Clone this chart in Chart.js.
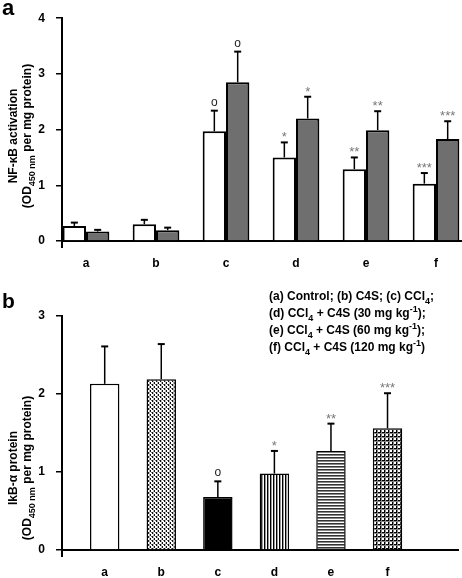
<!DOCTYPE html>
<html lang="en">
<head>
    <meta charset="UTF-8">
    <title>NF-kB and IkB-alpha</title>
    <script src="https://cdn.jsdelivr.net/npm/chart.js"></script>
    <style>
        body { margin: 0; background: #fff; }
        .panel { position: absolute; left: 0; width: 462px; }
        #panelA { top: 0; height: 280px; }
        #panelB { top: 280px; height: 298px; }
    </style>
</head>
<body>
    <div class="panel" id="panelA"><canvas id="chartA"></canvas></div>
    <div class="panel" id="panelB"><canvas id="chartB"></canvas></div>

    <script>
    // groups (a)-(f)
    const groups = ['a', 'b', 'c', 'd', 'e', 'f'];

    // panel a: NF-kB activation, two bars per group
    const nfkbWhite = [0.27, 0.30, 1.97, 1.50, 1.29, 1.03];
    const nfkbWhiteErr = [0.06, 0.08, 0.37, 0.27, 0.21, 0.19];
    const nfkbGray = [0.17, 0.195, 2.85, 2.20, 1.99, 1.83];
    const nfkbGrayErr = [0.03, 0.045, 0.55, 0.39, 0.34, 0.32];
    const nfkbTicks = [0, 1, 2, 3, 4];

    // panel b: IkB-alpha protein
    const ikb = [2.13, 2.19, 0.68, 0.98, 1.27, 1.56];
    const ikbErr = [0.48, 0.45, 0.20, 0.29, 0.35, 0.45];
    const ikbTicks = [0, 1, 2, 3];

    // significance marks
    const sigMarks = ['', '', 'o', '*', '**', '***'];

    const FONT = '"Liberation Sans", Arial, Helvetica, sans-serif';

    function tile(w, h, draw) {
        const c = document.createElement('canvas');
        c.width = w; c.height = h;
        const g = c.getContext('2d');
        g.fillStyle = '#fff';
        g.fillRect(0, 0, w, h);
        draw(g);
        return g.createPattern(c, 'repeat');
    }

    const patDots = tile(4, 4, g => {
        g.fillStyle = '#bbb';
        g.fillRect(1, 0, 1, 4);
        g.fillStyle = '#111';
        g.fillRect(0, 0, 1, 2);
        g.fillRect(2, 2, 1, 2);
        g.fillStyle = '#777';
        g.fillRect(3, 0, 1, 1);
    });
    const patVert = tile(3, 3, g => {
        g.fillStyle = '#000';
        g.fillRect(0, 0, 1, 3);
        g.fillStyle = '#999';
        g.fillRect(1, 0, 1, 3);
    });
    const patHoriz = tile(3, 3, g => {
        g.fillStyle = '#333';
        g.fillRect(0, 0, 3, 1);
        g.fillStyle = '#888';
        g.fillRect(0, 1, 3, 1);
    });
    const patGrid = tile(4, 4, g => {
        g.fillStyle = '#000';
        g.fillRect(0, 0, 4, 1);
        g.fillRect(0, 0, 1, 4);
        g.fillStyle = '#888';
        g.fillRect(0, 1, 4, 1);
        g.fillRect(1, 0, 1, 4);
    });
    const ikbFills = ['#ffffff', patDots, '#000000', patVert, patHoriz, patGrid];

    // text with sub/superscripts: parts = [[text, 'n'|'sub'|'sup'], ...]
    function drawRich(ctx, parts, x, y, size, align) {
        const fontFor = k => 'bold ' + (k === 'n' ? size : Math.round(size * 0.72)) + 'px ' + FONT;
        let total = 0;
        parts.forEach(([t, k]) => { ctx.font = fontFor(k); total += ctx.measureText(t).width; });
        let cx = align === 'center' ? x - total / 2 : x;
        ctx.textAlign = 'left';
        ctx.textBaseline = 'alphabetic';
        parts.forEach(([t, k]) => {
            ctx.font = fontFor(k);
            const dy = k === 'sub' ? size * 0.3 : (k === 'sup' ? -size * 0.4 : 0);
            ctx.fillText(t, cx, y + dy);
            cx += ctx.measureText(t).width;
        });
    }

    function drawYTitle(ctx, lines, xs, yc) {
        lines.forEach((parts, i) => {
            ctx.save();
            ctx.translate(xs[i], yc);
            ctx.rotate(-Math.PI / 2);
            drawRich(ctx, parts, 0, 4, 12, 'center');
            ctx.restore();
        });
    }

    // error bars (upward only) + significance marks
    const errorBars = {
        id: 'errorBars',
        afterDatasetsDraw(chart) {
            const ctx = chart.ctx;
            const y = chart.scales.y;
            chart.data.datasets.forEach((ds, i) => {
                const meta = chart.getDatasetMeta(i);
                meta.data.forEach((bar, j) => {
                    const top = y.getPixelForValue(ds.data[j].y + ds.errors[j]);
                    ctx.save();
                    ctx.strokeStyle = '#000';
                    ctx.lineWidth = 1.5;
                    ctx.beginPath();
                    ctx.moveTo(bar.x, bar.y);
                    ctx.lineTo(bar.x, top);
                    ctx.stroke();
                    ctx.lineWidth = 2;
                    ctx.beginPath();
                    ctx.moveTo(bar.x - 3.5, top);
                    ctx.lineTo(bar.x + 3.5, top);
                    ctx.stroke();
                    const mark = ds.sig[j];
                    if (mark) {
                        ctx.textAlign = 'center';
                        ctx.textBaseline = 'alphabetic';
                        if (mark === 'o') {
                            ctx.font = '12px ' + FONT;
                            ctx.fillStyle = '#222';
                            ctx.fillText(mark, bar.x, top - 5);
                        } else {
                            ctx.font = '13px ' + FONT;
                            ctx.fillStyle = '#777';
                            ctx.fillText(mark, bar.x, top - 1);
                        }
                    }
                    ctx.restore();
                });
            });
        }
    };

    // panel letter, axis titles, legend text
    const decorations = {
        id: 'decorations',
        afterDraw(chart, args, opts) {
            const ctx = chart.ctx;
            const area = chart.chartArea;
            ctx.save();
            ctx.fillStyle = '#000';
            ctx.strokeStyle = '#000';
            ctx.lineWidth = 2;
            ctx.beginPath();
            ctx.moveTo(area.left, area.bottom);
            ctx.lineTo(area.left, area.bottom + 7);
            ctx.stroke();
            ctx.font = 'bold ' + opts.letterSize + 'px ' + FONT;
            ctx.textAlign = 'left';
            ctx.textBaseline = 'alphabetic';
            ctx.fillText(opts.letter, 2, opts.letterY);
            drawYTitle(ctx, opts.title, [13, 27], opts.titleY);
            (opts.notes || []).forEach((parts, i) => {
                drawRich(ctx, parts, 269, 20 + i * 17, 12, 'left');
            });
            ctx.restore();
        }
    };

    function xAxis(min, max, height) {
        return {
            type: 'linear',
            offset: false,
            min: min,
            max: max,
            afterBuildTicks: s => { s.ticks = groups.map((g, i) => ({ value: i })); },
            afterFit: s => { s.height = height; },
            ticks: {
                callback: v => groups[v],
                font: { size: 12, weight: 'bold', family: FONT },
                color: '#000',
                padding: 15,
                maxRotation: 0
            },
            grid: { display: false, drawTicks: false },
            border: { display: true, color: '#000', width: 2 }
        };
    }

    function yAxis(max, tickValues) {
        return {
            min: 0,
            max: max,
            afterBuildTicks: s => { s.ticks = tickValues.map(v => ({ value: v })); },
            afterFit: s => { s.width = 62; },
            ticks: {
                font: { size: 12, weight: 'bold', family: FONT },
                color: '#000',
                padding: 11
            },
            grid: { drawOnChartArea: false, drawTicks: true, tickLength: 6, color: '#000', lineWidth: 1.5 },
            border: { display: true, color: '#000', width: 2 }
        };
    }

    const toPoints = arr => arr.map((v, i) => ({ x: i, y: v }));

    new Chart(document.getElementById('chartA'), {
        type: 'bar',
        data: {
            datasets: [
                {
                    data: toPoints(nfkbWhite), errors: nfkbWhiteErr, sig: sigMarks,
                    backgroundColor: '#ffffff', borderColor: '#000', borderWidth: 2,
                    categoryPercentage: 0.667, barPercentage: 1.0
                },
                {
                    data: toPoints(nfkbGray), errors: nfkbGrayErr, sig: sigMarks,
                    backgroundColor: '#6f6f6f', borderColor: '#000', borderWidth: 2,
                    categoryPercentage: 0.667, barPercentage: 1.0
                }
            ]
        },
        options: {
            responsive: true,
            maintainAspectRatio: false,
            animation: false,
            layout: { padding: { top: 7, right: 1, left: 0, bottom: 0 } },
            scales: {
                x: xAxis(-0.343, 5.357, 39),
                y: yAxis(4, nfkbTicks)
            },
            plugins: {
                legend: { display: false },
                tooltip: { enabled: false },
                decorations: {
                    letter: 'a', letterSize: 22, letterY: 15, titleY: 136,
                    title: [
                        [['NF-\u03BAB activation', 'n']],
                        [['(OD', 'n'], ['450 nm', 'sub'], [' per mg protein)', 'n']]
                    ]
                }
            }
        },
        plugins: [errorBars, decorations]
    });

    new Chart(document.getElementById('chartB'), {
        type: 'bar',
        data: {
            datasets: [
                {
                    data: toPoints(ikb), errors: ikbErr, sig: sigMarks,
                    backgroundColor: ikbFills, borderColor: '#000', borderWidth: 1.5,
                    categoryPercentage: 0.52, barPercentage: 1.0
                }
            ]
        },
        options: {
            responsive: true,
            maintainAspectRatio: false,
            animation: false,
            layout: { padding: { top: 36, right: 4, left: 0, bottom: 0 } },
            scales: {
                x: xAxis(-0.755, 6.246, 28),
                y: yAxis(3, ikbTicks)
            },
            plugins: {
                legend: { display: false },
                tooltip: { enabled: false },
                decorations: {
                    letter: 'b', letterSize: 21, letterY: 28, titleY: 188,
                    title: [
                        [['IkB-\u03B1 protein', 'n']],
                        [['(OD', 'n'], ['450 nm', 'sub'], [' per mg protein)', 'n']]
                    ],
                    notes: [
                        [['(a) Control; (b) C4S; (c) CCl', 'n'], ['4', 'sub'], [';', 'n']],
                        [['(d) CCl', 'n'], ['4', 'sub'], [' + C4S (30 mg kg', 'n'], ['-1', 'sup'], [');', 'n']],
                        [['(e) CCl', 'n'], ['4', 'sub'], [' + C4S (60 mg kg', 'n'], ['-1', 'sup'], [');', 'n']],
                        [['(f) CCl', 'n'], ['4', 'sub'], [' + C4S (120 mg kg', 'n'], ['-1', 'sup'], [')', 'n']]
                    ]
                }
            }
        },
        plugins: [errorBars, decorations]
    });
    </script>
</body>
</html>
